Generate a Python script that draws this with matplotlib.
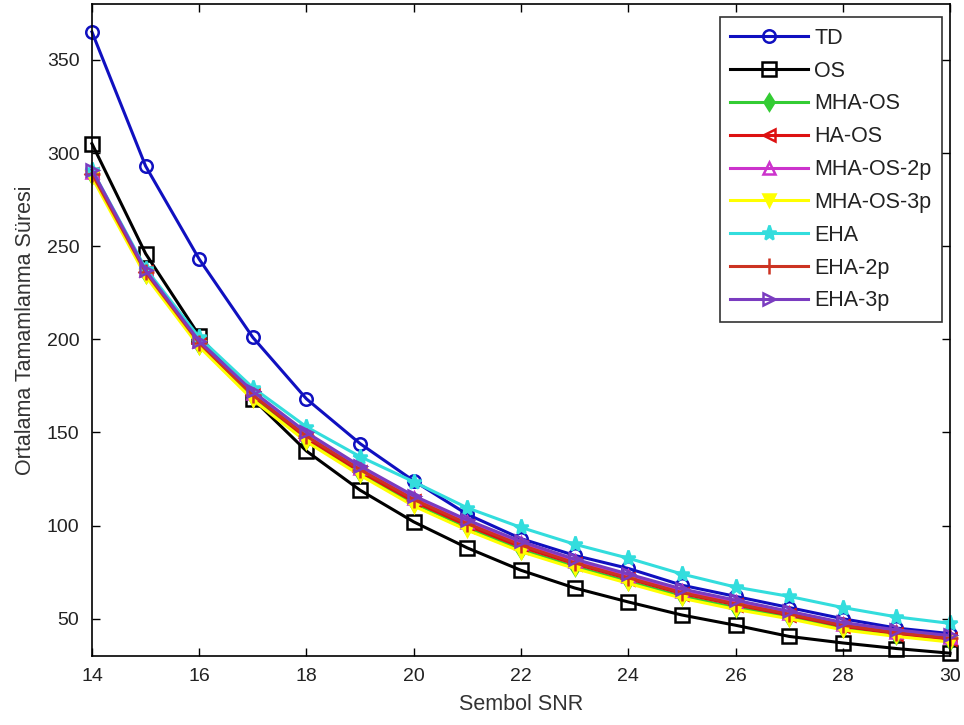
import matplotlib
matplotlib.use("Agg")
import matplotlib.pyplot as plt
import numpy as np

plt.rcParams['font.family'] = ['Liberation Sans', 'DejaVu Sans']

snr = [14, 15, 16, 17, 18, 19, 20, 21, 22, 23, 24, 25, 26, 27, 28, 29, 30]

td        = [365, 293, 243, 201, 168, 144, 124, 106, 93, 84, 77, 68, 62, 56, 50, 45, 42]
os_       = [305, 246, 202, 168, 140, 119, 102, 88, 76, 66.5, 59, 52, 46.5, 40.5, 37, 34, 31.5]
mha_os    = [288, 235, 197, 169, 146, 128, 112, 99, 87, 78, 70, 62, 56, 51, 45, 41, 38]
ha_os     = [289, 236, 198, 170, 147, 129, 113, 100, 88.5, 79.5, 71.5, 63.5, 57.5, 52, 46, 42, 39]
mha_os_2p = [290, 237, 199, 171, 149, 131, 115, 102, 90.5, 81, 73, 65, 59, 53, 47, 43, 40]
mha_os_3p = [287, 234, 196, 167.5, 145, 127, 110.5, 97.5, 86, 77, 69, 61, 55, 50, 44, 40.5, 37.5]
eha       = [291, 238, 201, 174, 153, 137, 123.5, 109.5, 99, 90, 82.5, 74, 67, 62, 56, 51, 47.5]
eha_2p    = [289, 236, 198, 170, 148, 130, 114, 101, 89.5, 80, 72, 64, 58, 52.5, 46.5, 42.5, 39.5]
eha_3p    = [291, 237, 199, 172, 150, 132, 116, 103, 91.5, 82, 74, 66, 60, 54, 48, 44, 41]

labels = ['TD', 'OS', 'MHA-OS', 'HA-OS', 'MHA-OS-2p', 'MHA-OS-3p', 'EHA', 'EHA-2p', 'EHA-3p']
series = [td, os_, mha_os, ha_os, mha_os_2p, mha_os_3p, eha, eha_2p, eha_3p]
colors = ['#1010c0', '#000000', '#33cc33', '#dd1111', '#cc33cc', '#ffff00', '#33dddd', '#cc3322', '#7a3cc0']
markers = ['o', 's', 'd', '<', '^', 'v', '*', '+', '>']
filled = [False, False, True, False, False, True, True, True, False]
msizes = [9, 10, 8, 9, 9, 9, 11, 11, 9]

fig = plt.figure(figsize=(9.64, 7.25), dpi=100)
ax = fig.add_axes([0.0954, 0.0952, 0.8901, 0.8993])

for y, lab, c, m, f, ms in zip(series, labels, colors, markers, filled, msizes):
    ax.plot(snr, y, color=c, marker=m, markersize=ms, linewidth=2.2,
            markerfacecolor=(c if f else 'none'), markeredgecolor=c,
            markeredgewidth=1.8, label=lab, clip_on=False)

ax.set_xlim(14, 30)
ax.set_ylim(30, 380)
ax.set_xticks(range(14, 31, 2))
ax.set_yticks(range(50, 351, 50))
ax.tick_params(direction='in', length=6, width=1, top=True, right=True,
               labelsize=14, pad=9, labelcolor='#222222')
for s in ax.spines.values():
    s.set_linewidth(1.2)

ax.set_xlabel('Sembol SNR', fontsize=15.5, color='#333333', labelpad=6)
ax.set_ylabel('Ortalama Tamamlanma Süresi', fontsize=15.5, color='#333333', labelpad=8)

leg = ax.legend(loc='upper right', bbox_to_anchor=(0.9985, 0.99), fontsize=15.5,
                frameon=True, fancybox=False, edgecolor='black', handlelength=3.6,
                labelspacing=0.55, borderpad=0.5, handletextpad=0.3, borderaxespad=0.3)
leg.get_frame().set_linewidth(1.2)
for t in leg.get_texts():
    t.set_color('#222222')

fig.savefig('out.png', dpi=100)
